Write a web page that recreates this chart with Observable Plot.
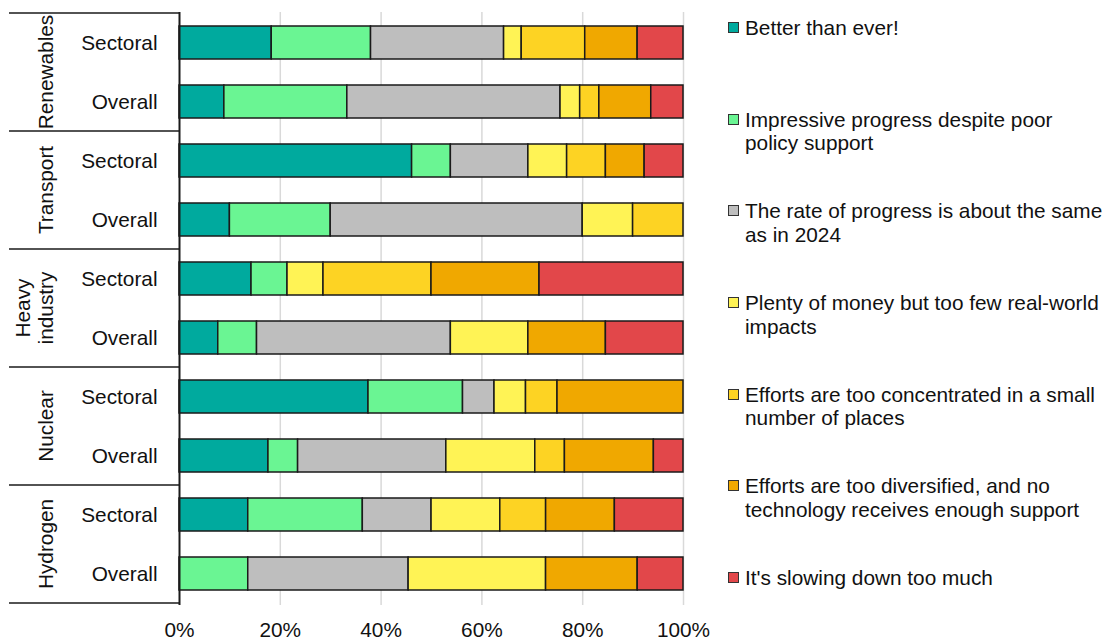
<!DOCTYPE html>
<html>
<head>
<meta charset="utf-8">
<script src="https://cdn.jsdelivr.net/npm/d3@7"></script>
<script src="https://cdn.jsdelivr.net/npm/@observablehq/plot@0.6"></script>
<style>
  body { margin: 0; background: #fff; font-family: "Liberation Sans", Arial, sans-serif; }
  #wrap { position: relative; width: 1112px; height: 640px; }
  #legend { position: absolute; left: 728px; top: 16px; }
  .item { position: absolute; left: 0; display: flex; align-items: flex-start; width: 380px;
          font-size: 20.8px; line-height: 23.5px; color: #111; }
  .item .sw { flex: none; width: 11px; height: 11px; box-sizing: border-box; border: 1px solid #333;
              margin-top: 6px; margin-right: 6px; }
  .item .lab { width: 363px; }
</style>
</head>
<body>
<div id="wrap"><div id="chart"></div><div id="legend"></div></div>
<script>
// Technologies (groups) and the two question scopes shown for each
const groups = ["Renewables", "Transport", "Heavy industry", "Nuclear", "Hydrogen"];
const groupLabels = ["Renewables", "Transport", "Heavy\nindustry", "Nuclear", "Hydrogen"];
const scopes = ["Sectoral", "Overall"];

// Answer options, in stacking order
const responses = [
  "Better than ever!",
  "Impressive progress despite poor policy support",
  "The rate of progress is about the same as in 2024",
  "Plenty of money but too few real-world impacts",
  "Efforts are too concentrated in a small number of places",
  "Efforts are too diversified, and no technology receives enough support",
  "It's slowing down too much"
];
const colors = ["#00AA9E", "#6AF593", "#BEBEBE", "#FFF355", "#FDD323", "#F0A800", "#E2474A"];

// Share of respondents (%) for each answer, one array per bar
const renewablesSectoral = [18.3, 19.7, 26.4, 3.5, 12.6, 10.4, 9.1];
const renewablesOverall  = [8.9, 24.4, 42.3, 3.9, 3.8, 10.3, 6.4];
const transportSectoral  = [46.15, 7.69, 15.38, 7.69, 7.69, 7.69, 7.71];
const transportOverall   = [10, 20, 50, 10, 10, 0, 0];
const heavySectoral      = [14.29, 7.14, 0, 7.14, 21.43, 21.43, 28.57];
const heavyOverall       = [7.69, 7.69, 38.46, 15.38, 0, 15.38, 15.4];
const nuclearSectoral    = [37.5, 18.75, 6.25, 6.25, 6.25, 25, 0];
const nuclearOverall     = [17.65, 5.88, 29.41, 17.65, 5.88, 17.65, 5.88];
const hydrogenSectoral   = [13.64, 22.73, 13.64, 13.64, 9.09, 13.64, 13.62];
const hydrogenOverall    = [0, 13.64, 31.82, 27.27, 0, 18.18, 9.09];

const xTicks = [0, 20, 40, 60, 80, 100];

const series = {
  "Renewables":     [renewablesSectoral, renewablesOverall],
  "Transport":      [transportSectoral, transportOverall],
  "Heavy industry": [heavySectoral, heavyOverall],
  "Nuclear":        [nuclearSectoral, nuclearOverall],
  "Hydrogen":       [hydrogenSectoral, hydrogenOverall]
};

const rowKey = (g, s) => g + "|" + s;
const rows = groups.flatMap(g => scopes.map(s => rowKey(g, s)));

const data = [];
groups.forEach(g => scopes.forEach((s, si) => {
  series[g][si].forEach((v, ri) => {
    if (v > 0) data.push({row: rowKey(g, s), response: responses[ri], value: v});
  });
}));

const ink = "#111";

const plot = Plot.plot({
  width: 1112,
  height: 640,
  marginLeft: 179,
  marginRight: 429,
  marginTop: 12,
  marginBottom: 35,
  style: {fontFamily: '"Liberation Sans", Arial, sans-serif', fontSize: "20.8px", color: ink, background: "transparent"},
  x: {domain: [0, 100], label: null},
  y: {domain: rows, paddingInner: 0.44, paddingOuter: 0.22, label: null},
  color: {domain: responses, range: colors},
  marks: [
    Plot.gridX(xTicks.slice(1), {stroke: "#d9d9d9", strokeOpacity: 1, strokeWidth: 1.5}),
    Plot.barX(data, Plot.stackX({
      x: "value", y: "row", fill: "response",
      stroke: "#1a1a1a", strokeWidth: 1.5
    })),
    Plot.axisX({ticks: xTicks, tickFormat: d => d + "%", tickSize: 0, tickPadding: 17, label: null}),
    Plot.axisY({tickSize: 0, tickPadding: 22, tickFormat: d => d.split("|")[1], label: null}),
    Plot.ruleX([0], {stroke: "#1a1a1a", strokeWidth: 2})
  ]
});

document.getElementById("chart").append(plot);

// Group column on the left: separators between technologies and rotated group names
const y = plot.scale("y");
const x = plot.scale("x");
const gap = (y.step - y.bandwidth) / 2;
const axisX0 = x.apply(0);
const labelColumn = 170;
const svg = d3.select(plot);
const layer = svg.append("g");

groups.forEach((g, i) => {
  const top = y.apply(rowKey(g, "Sectoral")) - gap;
  const bottom = y.apply(rowKey(g, "Overall")) + y.bandwidth + gap;
  layer.append("line")
    .attr("x1", axisX0 - labelColumn).attr("x2", axisX0)
    .attr("y1", top).attr("y2", top)
    .attr("stroke", "#1a1a1a").attr("stroke-width", 1.5);
  if (i === groups.length - 1) {
    layer.append("line")
      .attr("x1", axisX0 - labelColumn).attr("x2", axisX0)
      .attr("y1", bottom).attr("y2", bottom)
      .attr("stroke", "#1a1a1a").attr("stroke-width", 1.5);
  }
  const lines = groupLabels[i].split("\n");
  const t = layer.append("text")
    .attr("transform", `translate(${axisX0 - 134},${(top + bottom) / 2}) rotate(-90)`)
    .attr("text-anchor", "middle")
    .attr("fill", ink);
  lines.forEach((ln, k) => {
    t.append("tspan")
      .attr("x", 0)
      .attr("dy", k === 0 ? `${0.36 - 1.06 * (lines.length - 1)}em` : "1.06em")
      .text(ln);
  });
});

// Legend to the right of the chart
const legend = d3.select("#legend");
responses.forEach((r, i) => {
  const item = legend.append("div").attr("class", "item").style("top", (i * 91.67) + "px");
  item.append("div").attr("class", "sw").style("background", colors[i]);
  item.append("div").attr("class", "lab").text(r);
});
</script>
</body>
</html>
